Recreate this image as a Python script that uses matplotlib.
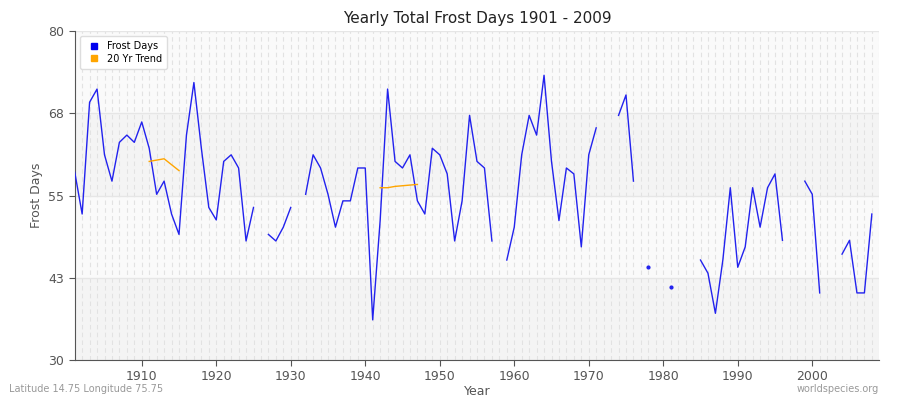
import matplotlib
matplotlib.use("Agg")
import matplotlib.pyplot as plt
import numpy as np

years = list(range(1901, 2010))
vals_known = {
1901:58.6,1902:52.2,1903:69.2,1904:71.2,1905:61.2,1906:57.2,1907:63.1,1908:64.2,1909:63.1,1910:66.2,
1911:62.2,1912:55.2,1913:57.2,1914:52.2,1915:49.1,1916:64.2,1917:72.2,1918:62.2,1919:53.2,1920:51.3,
1921:60.2,1922:61.2,1923:59.2,1924:48.1,1925:53.2,1927:49.1,1928:48.1,1929:50.2,1930:53.2,
1932:55.2,1933:61.2,1934:59.2,1935:55.2,1936:50.2,1937:54.2,1938:54.2,1939:59.2,1940:59.2,
1941:36.1,1942:51.2,1943:71.2,1944:60.2,1945:59.2,1946:61.2,1947:54.2,1948:52.2,1949:62.2,1950:61.2,
1951:58.3,1952:48.1,1953:54.2,1954:67.2,1955:60.2,1956:59.2,1957:48.1,
1959:45.2,1960:50.2,1961:61.2,1962:67.2,1963:64.2,1964:73.3,1965:60.2,1966:51.2,1967:59.2,1968:58.3,
1969:47.2,1970:61.2,1971:65.3,1974:67.2,1975:70.3,1976:57.2,1978:44.1,1981:41.1,
1985:45.2,1986:43.2,1987:37.1,1988:45.2,1989:56.2,1990:44.1,1991:47.2,1992:56.2,1993:50.2,1994:56.2,
1995:58.3,1996:48.2,1999:57.2,2000:55.2,2001:40.2,2004:46.1,2005:48.2,2006:40.2,2007:40.2,2008:52.2}
frost = [vals_known.get(y, np.nan) for y in years]

trend1_years = [1911, 1912, 1913, 1914, 1915]
trend1_vals = [60.2, 60.4, 60.6, 59.7, 58.8]
trend2_years = [1942, 1943, 1944, 1945, 1946, 1947]
trend2_vals = [56.2, 56.2, 56.4, 56.5, 56.6, 56.7]
yticks = [30, 42.5, 55, 67.5, 80]
ytick_labels = ["30", "43", "55", "68", "80"]

fig = plt.figure(figsize=(9, 4), dpi=100)
ax = fig.add_axes([0.083, 0.1, 0.894, 0.822])
ax.set_xlim(1901, 2009)
ax.set_ylim(30, 80)
cols = ["#f4f4f4", "#fafafa", "#f4f4f4", "#fafafa"]
for i in range(4):
    ax.axhspan(yticks[i], yticks[i+1], color=cols[i], zorder=0, lw=0)
for y in years:
    ax.axvline(y, color="#e2e2e2", lw=0.8, ls=(0, (4, 3)), zorder=1)
for t in yticks:
    ax.axhline(t, color="#e6e6e6", lw=1, zorder=1)

arr = np.array(frost)
yr = np.array(years)
ax.plot(yr, arr, color="#2222ee", lw=1, zorder=3, label="Frost Days")
isolated = [i for i in range(len(arr)) if not np.isnan(arr[i])
            and (i == 0 or np.isnan(arr[i-1])) and (i == len(arr)-1 or np.isnan(arr[i+1]))]
ax.plot(yr[isolated], arr[isolated], "o", color="#2222ee", ms=2, zorder=3)
ax.plot(trend1_years, trend1_vals, color="orange", lw=1, zorder=3, label="20 Yr Trend")
ax.plot(trend2_years, trend2_vals, color="orange", lw=1, zorder=3)

ax.set_yticks(yticks)
ax.set_yticklabels(ytick_labels)
ax.set_xticks(range(1910, 2001, 10))
ax.tick_params(colors="#555555", labelsize=9, length=4)
for s in ["top", "right"]:
    ax.spines[s].set_visible(False)
for s in ["left", "bottom"]:
    ax.spines[s].set_color("#555555")
ax.set_title("Yearly Total Frost Days 1901 - 2009", fontsize=11, color="#222222")
ax.set_xlabel("Year", color="#555555", fontsize=9, labelpad=1)
ax.set_ylabel("Frost Days", color="#555555", fontsize=9)

from matplotlib.lines import Line2D
handles = [Line2D([], [], marker="s", ls="", color="#0000ee", ms=4),
           Line2D([], [], marker="s", ls="", color="orange", ms=4)]
ax.legend(handles, ["Frost Days", "20 Yr Trend"], loc="upper left", fontsize=7,
          frameon=True, framealpha=1, edgecolor="#dddddd", handletextpad=0.3,
          borderpad=0.5, labelspacing=0.3, bbox_to_anchor=(0.0, 1.0))
fig.text(0.01, 0.02, "Latitude 14.75 Longitude 75.75", fontsize=7, color="#999999")
fig.text(0.977, 0.02, "worldspecies.org", fontsize=7, color="#999999", ha="right")
fig.savefig("out.png")
